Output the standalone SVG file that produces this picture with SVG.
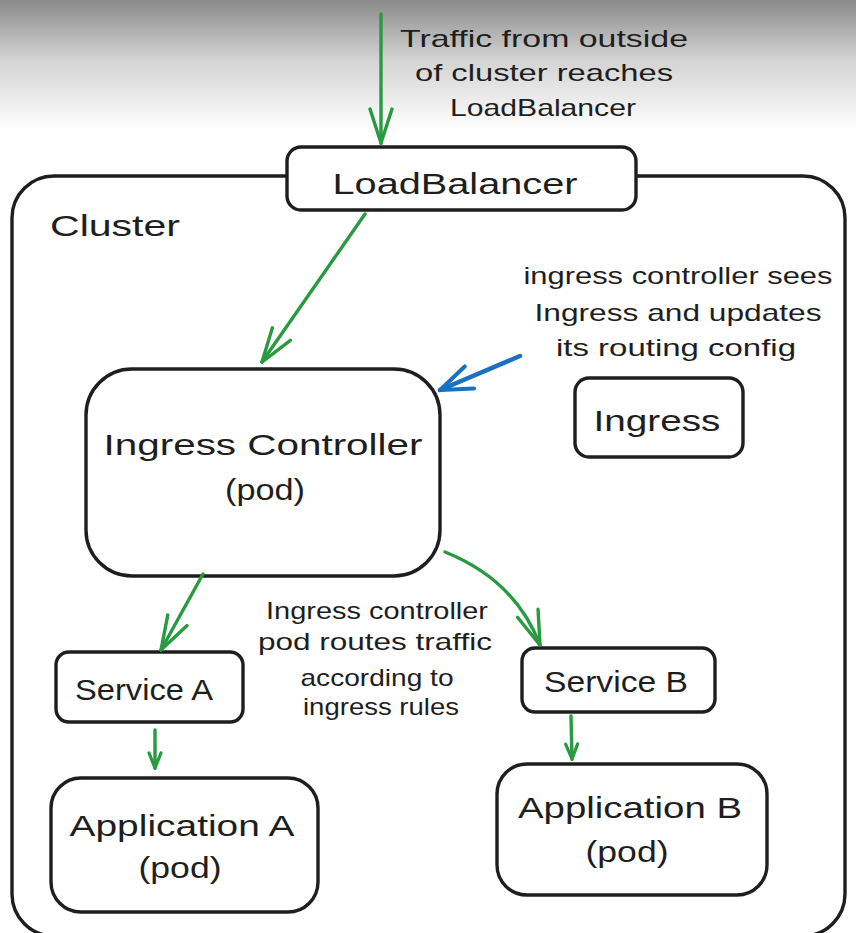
<svg xmlns="http://www.w3.org/2000/svg" width="856" height="933" viewBox="0 0 856 933">
<style>
.box{fill:#fff;stroke:#1e1e1e;stroke-width:3.4;}
.t{font-family:"Liberation Sans","DejaVu Sans",sans-serif;fill:#1e1e1e;text-anchor:middle;}
.big{font-size:30px;}
.note{font-size:24px;}
.g{fill:none;stroke:#2a9a40;stroke-width:3.4;stroke-linecap:round;}
.b{fill:none;stroke:#1971c2;stroke-width:4.5;stroke-linecap:round;}
</style>
<defs>
<linearGradient id="shade" x1="0" y1="0" x2="0" y2="1">
<stop offset="0" stop-color="#8a8a8a"/>
<stop offset="0.45" stop-color="#d2d2d2"/>
<stop offset="1" stop-color="#ffffff"/>
</linearGradient>
<marker id="ag" viewBox="-36 -14 38 28" refX="0" refY="0" markerWidth="38" markerHeight="28" orient="auto" markerUnits="userSpaceOnUse">
<path d="M-34,-11 L0,0 L-34,11" fill="none" stroke="#2a9a40" stroke-width="3.4" stroke-linecap="round"/>
</marker>
<marker id="ags" viewBox="-18 -10 20 20" refX="0" refY="0" markerWidth="20" markerHeight="20" orient="auto" markerUnits="userSpaceOnUse">
<path d="M-15,-6 L0,0 L-15,6" fill="none" stroke="#2a9a40" stroke-width="3.2" stroke-linecap="round"/>
</marker>
<marker id="ab" viewBox="-34 -14 36 28" refX="0" refY="0" markerWidth="36" markerHeight="28" orient="auto" markerUnits="userSpaceOnUse">
<path d="M-32,-12 L0,0 L-32,12" fill="none" stroke="#1971c2" stroke-width="4" stroke-linecap="round"/>
</marker>
</defs>
<rect x="0" y="0" width="856" height="933" fill="#fff"/>
<rect x="0" y="0" width="856" height="130" fill="url(#shade)"/>

<g id="cluster">
<rect class="box" x="12" y="176" width="833" height="760" rx="42" style="fill:none"/>
<text class="t big" x="115" y="236" textLength="130" lengthAdjust="spacingAndGlyphs">Cluster</text>
</g>

<g id="note-traffic">
<text class="t note" x="544" y="47" textLength="288" lengthAdjust="spacingAndGlyphs">Traffic from outside</text>
<text class="t note" x="544" y="81" textLength="258" lengthAdjust="spacingAndGlyphs">of cluster reaches</text>
<text class="t note" x="543" y="116" textLength="186" lengthAdjust="spacingAndGlyphs">LoadBalancer</text>
</g>

<g id="loadbalancer">
<rect class="box" x="287" y="147" width="349" height="63" rx="14"/>
<text class="t big" x="455" y="194" textLength="245" lengthAdjust="spacingAndGlyphs">LoadBalancer</text>
</g>

<g id="note-ingress">
<text class="t note" x="678" y="284" textLength="309" lengthAdjust="spacingAndGlyphs">ingress controller sees</text>
<text class="t note" x="678" y="321" textLength="287" lengthAdjust="spacingAndGlyphs">Ingress and updates</text>
<text class="t note" x="676" y="356" textLength="240" lengthAdjust="spacingAndGlyphs">its routing config</text>
</g>

<g id="ingress">
<rect class="box" x="575" y="378" width="168" height="79" rx="14"/>
<text class="t big" x="657" y="431" textLength="127" lengthAdjust="spacingAndGlyphs">Ingress</text>
</g>

<g id="ingress-controller">
<rect class="box" x="86" y="369" width="354" height="207" rx="46"/>
<text class="t big" x="263" y="455" textLength="319" lengthAdjust="spacingAndGlyphs">Ingress Controller</text>
<text class="t big" x="265" y="500" textLength="80" lengthAdjust="spacingAndGlyphs">(pod)</text>
</g>

<g id="note-routes">
<text class="t note" x="377" y="619" textLength="222" lengthAdjust="spacingAndGlyphs">Ingress controller</text>
<text class="t note" x="375" y="650" textLength="234" lengthAdjust="spacingAndGlyphs">pod routes traffic</text>
<text class="t note" x="377" y="686" textLength="153" lengthAdjust="spacingAndGlyphs">according to</text>
<text class="t note" x="381" y="715" textLength="156" lengthAdjust="spacingAndGlyphs">ingress rules</text>
</g>

<g id="service-a">
<rect class="box" x="56" y="652" width="187" height="70" rx="13"/>
<text class="t big" x="144" y="700" textLength="138" lengthAdjust="spacingAndGlyphs">Service A</text>
</g>

<g id="service-b">
<rect class="box" x="522" y="648" width="193" height="64" rx="13"/>
<text class="t big" x="616" y="692" textLength="144" lengthAdjust="spacingAndGlyphs">Service B</text>
</g>

<g id="application-a">
<rect class="box" x="51" y="778" width="267" height="134" rx="30"/>
<text class="t big" x="182" y="836" textLength="225" lengthAdjust="spacingAndGlyphs">Application A</text>
<text class="t big" x="180" y="878" textLength="83" lengthAdjust="spacingAndGlyphs">(pod)</text>
</g>

<g id="application-b">
<rect class="box" x="497" y="764" width="270" height="131" rx="30"/>
<text class="t big" x="630" y="818" textLength="224" lengthAdjust="spacingAndGlyphs">Application B</text>
<text class="t big" x="627" y="862" textLength="83" lengthAdjust="spacingAndGlyphs">(pod)</text>
</g>

<g id="connectors">
<path class="g" d="M381,14 L381,143" marker-end="url(#ag)"/>
<path class="g" d="M365,214 L262,362" marker-end="url(#ag)"/>
<path class="b" d="M520,356 L440,390" marker-end="url(#ab)"/>
<path class="g" d="M203,574 L161,650" marker-end="url(#ag)"/>
<path class="g" d="M445,552 Q515,580 540,645" marker-end="url(#ag)"/>
<path class="g" d="M155,730 L155,768" marker-end="url(#ags)"/>
<path class="g" d="M571,716 L572,759" marker-end="url(#ags)"/>
</g>
</svg>
